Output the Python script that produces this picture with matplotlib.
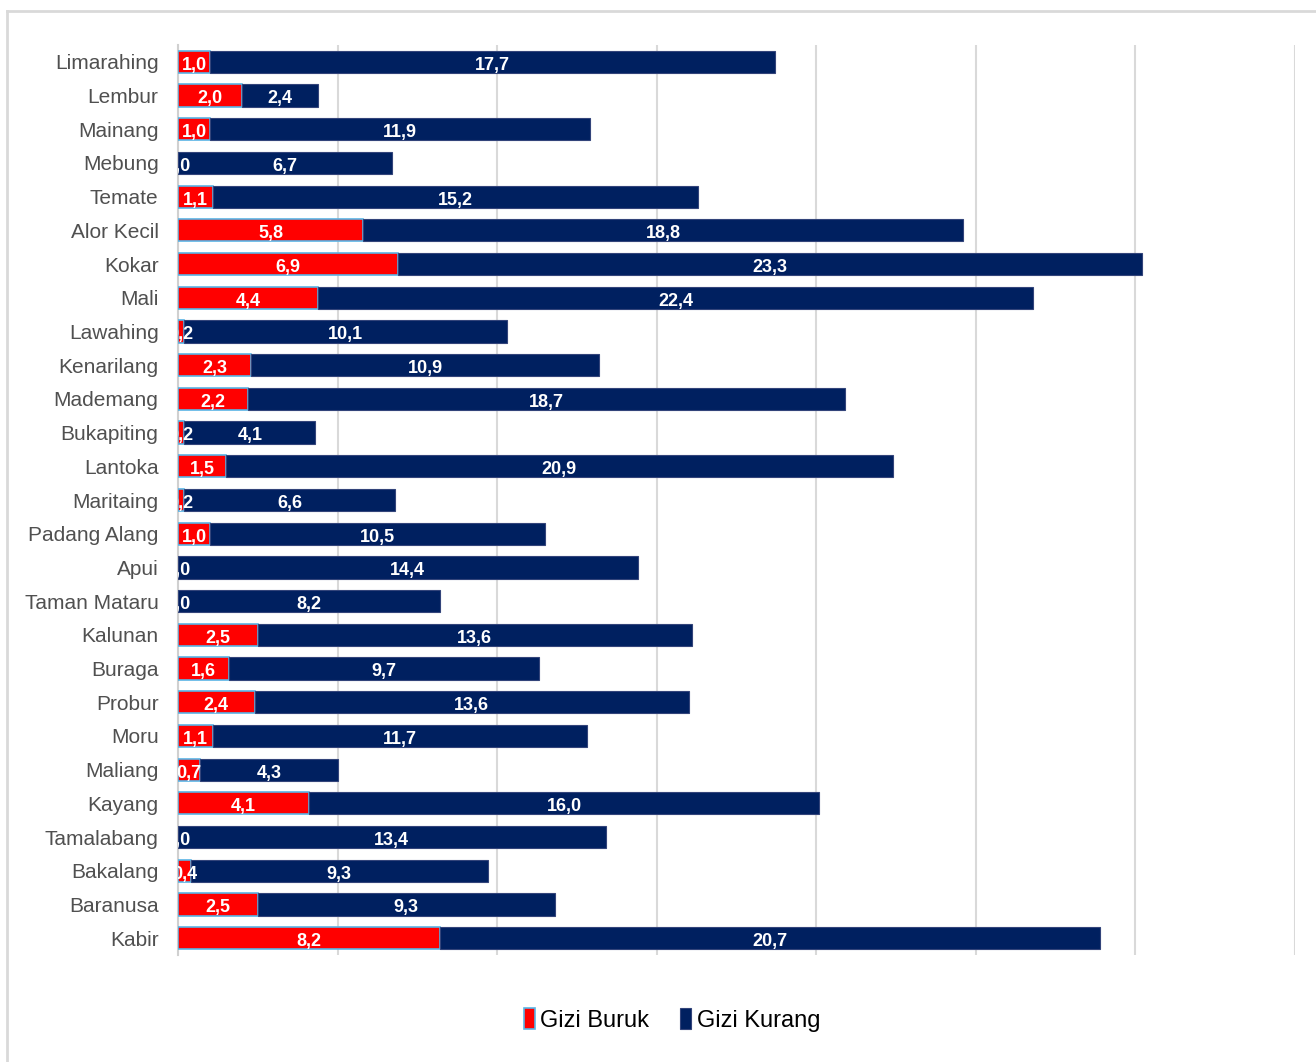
import numpy as np
import matplotlib
matplotlib.use("Agg")
import matplotlib.pyplot as plt
from matplotlib.lines import Line2D

plt.rcParams['font.family'] = ['Liberation Sans', 'DejaVu Sans']

desa = ['Limarahing', 'Lembur', 'Mainang', 'Mebung', 'Temate', 'Alor Kecil', 'Kokar',
        'Mali', 'Lawahing', 'Kenarilang', 'Mademang', 'Bukapiting', 'Lantoka', 'Maritaing',
        'Padang Alang', 'Apui', 'Taman Mataru', 'Kalunan', 'Buraga', 'Probur', 'Moru',
        'Maliang', 'Kayang', 'Tamalabang', 'Bakalang', 'Baranusa', 'Kabir']
gizi_buruk = [1.0, 2.0, 1.0, 0.0, 1.1, 5.8, 6.9, 4.4, 0.2, 2.3, 2.2, 0.2, 1.5, 0.2,
              1.0, 0.0, 0.0, 2.5, 1.6, 2.4, 1.1, 0.7, 4.1, 0.0, 0.4, 2.5, 8.2]
gizi_kurang = [17.7, 2.4, 11.9, 6.7, 15.2, 18.8, 23.3, 22.4, 10.1, 10.9, 18.7, 4.1, 20.9, 6.6,
               10.5, 14.4, 8.2, 13.6, 9.7, 13.6, 11.7, 4.3, 16.0, 13.4, 9.3, 9.3, 20.7]

merah = '#ff0000'
biru = '#002060'

fig = plt.figure(figsize=(13.16, 10.62), dpi=100)
ax = fig.add_axes([178/1316, 107/1062, 1117/1316, 910/1062])

# bingkai luar (hanya kiri dan atas yang kelihatan)
fx, fy = 7/1316, 1 - 11/1062
fig.lines.append(Line2D([fx, fx], [0, fy], transform=fig.transFigure, color='#d9d9d9', lw=2))
fig.lines.append(Line2D([fx, 1], [fy, fy], transform=fig.transFigure, color='#d9d9d9', lw=2))

y = np.arange(len(desa))
bb = ax.barh(y, gizi_buruk, height=0.66, color=merah, edgecolor='#5ab4e5', linewidth=1.2,
             label='Gizi Buruk', zorder=3)
bk = ax.barh(y, gizi_kurang, left=gizi_buruk, height=0.66, color=biru, edgecolor='#33447a',
             linewidth=0.8, label='Gizi Kurang', zorder=3)

for i in range(len(desa)):
    for left, val in ((0, gizi_buruk[i]), (gizi_buruk[i], gizi_kurang[i])):
        ax.text(left + val / 2, y[i] + 0.1, f'{val:.1f}'.replace('.', ','),
                ha='center', va='center', color='white', fontsize=13,
                fontweight='bold', zorder=4, clip_on=True)

ax.set_xlim(0, 35)
ax.set_ylim(len(desa) - 0.5, -0.5)
ax.set_xticks(np.arange(0, 36, 5))
ax.set_xticklabels([])
ax.tick_params(axis='x', length=0)
ax.tick_params(axis='y', length=0, pad=14)
ax.set_yticks(y)
ax.set_yticklabels(desa, fontsize=15, color='#505050')
ax.grid(axis='x', color='#d9d9d9', linewidth=1.5, zorder=0)
for s in ['top', 'right', 'bottom']:
    ax.spines[s].set_visible(False)
ax.spines['left'].set_color('#d0d0d0')
ax.spines['left'].set_linewidth(1.5)

fig.legend(handles=[bb, bk], loc='center', bbox_to_anchor=(672/1316, 1 - 1020/1062),
           ncol=2, frameon=False, fontsize=17, handlelength=0.45, handleheight=1.0,
           handletextpad=0.25, columnspacing=1.3)

fig.savefig('out.png', dpi=100)
